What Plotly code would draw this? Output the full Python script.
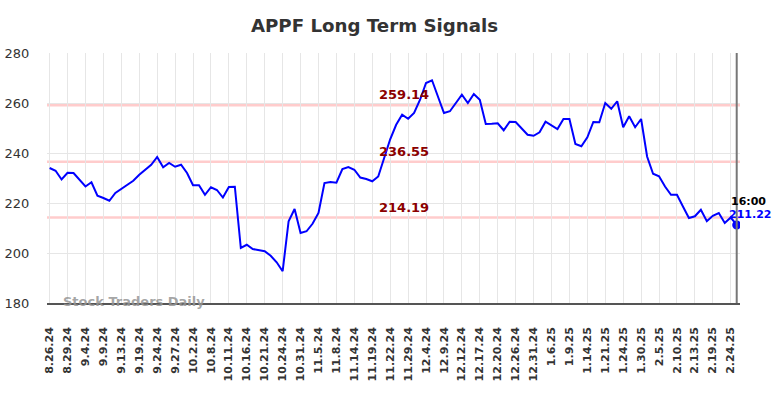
import plotly.graph_objects as go

title = "APPF Long Term Signals"

prices = [
    234.0, 232.9, 229.4, 232.1, 232.0, 229.3, 226.6, 228.3, 222.9, 222.0,
    220.9, 224.0, 225.7, 227.1, 228.9, 231.3, 233.2, 235.3, 238.4, 234.3,
    236.0, 234.5, 235.3, 232.0, 227.1, 227.1, 223.3, 226.3, 225.2, 222.2,
    226.4, 226.5, 202.0, 203.3, 201.6, 201.2, 200.7, 198.9, 196.3, 192.7,
    212.7, 217.6, 208.0, 208.7, 211.7, 216.0, 228.0, 228.4, 228.1, 233.6,
    234.4, 233.3, 230.2, 229.6, 228.7, 230.6, 238.0, 245.5, 251.3, 255.3,
    253.7, 256.0, 261.3, 268.0, 269.1, 262.7, 256.0, 256.7, 260.0, 263.3,
    260.0, 263.6, 261.3, 251.6, 251.7, 251.9, 249.1, 252.5, 252.4, 250.0,
    247.3, 246.9, 248.3, 252.5, 250.9, 249.6, 253.6, 253.6, 243.6, 242.7,
    246.3, 252.4, 252.3, 260.0, 257.7, 260.7, 250.3, 254.7, 250.3, 253.6,
    238.6, 231.7, 230.7, 226.6, 223.3, 223.3, 218.6, 214.0, 214.7, 217.3,
    212.7, 214.9, 216.0, 212.0, 214.2, 211.22,
]

tick_labels = [
    "8.26.24", "8.29.24", "9.4.24", "9.9.24", "9.13.24", "9.19.24", "9.24.24",
    "9.27.24", "10.2.24", "10.8.24", "10.11.24", "10.16.24", "10.21.24",
    "10.24.24", "10.31.24", "11.5.24", "11.8.24", "11.14.24", "11.19.24",
    "11.22.24", "11.29.24", "12.4.24", "12.9.24", "12.12.24", "12.17.24",
    "12.20.24", "12.26.24", "12.31.24", "1.6.25", "1.9.25", "1.14.25",
    "1.21.25", "1.24.25", "1.30.25", "2.5.25", "2.10.25", "2.13.25",
    "2.19.25", "2.24.25",
]
tick_step = 3

signal_levels = [259.14, 236.55, 214.19]
signal_label_pos = 59.3

last_time = "16:00"

x_idx = list(range(len(prices)))
tick_vals = [i * tick_step for i in range(len(tick_labels))]
last_x = x_idx[-1]
last_y = prices[-1]

FONT = "DejaVu Sans"

fig = go.Figure()

for lvl in signal_levels:
    fig.add_shape(type="line", xref="paper", x0=0, x1=1, yref="y", y0=lvl, y1=lvl,
                  line=dict(color="#ffcccc", width=2.5), layer="below")

fig.add_trace(go.Scatter(x=x_idx, y=prices, mode="lines",
                         line=dict(color="#0000ff", width=2), hoverinfo="skip",
                         showlegend=False))
fig.add_trace(go.Scatter(x=[last_x], y=[last_y], mode="markers",
                         marker=dict(color="#0000ff", size=9), showlegend=False))

# vertical marker at last point
fig.add_shape(type="line", xref="x", x0=last_x, x1=last_x, yref="paper", y0=0, y1=1,
              line=dict(color="#777777", width=2))

for lvl in signal_levels:
    fig.add_annotation(x=signal_label_pos, y=lvl, xref="x", yref="y",
                       text=f"<b>{lvl:.2f}</b>", showarrow=False,
                       font=dict(family=FONT, size=13, color="#8b0000"),
                       yanchor="bottom", yshift=1)

fig.add_annotation(x=last_x, y=last_y, xref="x", yref="y", text=f"<b>{last_time}</b>",
                   showarrow=False, xanchor="left", xshift=-8, yshift=23,
                   font=dict(family=FONT, size=11, color="#000000"))
fig.add_annotation(x=last_x, y=last_y, xref="x", yref="y", text=f"<b>{last_y:.2f}</b>",
                   showarrow=False, xanchor="left", xshift=-10, yshift=10,
                   font=dict(family=FONT, size=11, color="#0000ff"))

fig.add_annotation(x=0.02, y=0, xref="paper", yref="paper", text="<b>Stock Traders Daily</b>",
                   showarrow=False, xanchor="left", yanchor="middle", yshift=2,
                   font=dict(family=FONT, size=13, color="rgba(150,150,150,0.85)"))

fig.update_layout(
    width=784, height=398,
    margin=dict(l=47, r=44, t=53, b=95, pad=0, autoexpand=False),
    paper_bgcolor="white", plot_bgcolor="white",
    title=dict(text=f"<b>{title}</b>", x=0.4777, xanchor="center", y=0.935, yanchor="middle",
               font=dict(family=FONT, size=18.2, color="#333333")),
    font=dict(family=FONT),
    showlegend=False,
)

fig.update_xaxes(
    range=[-0.44, 115.55], tickmode="array", tickvals=tick_vals, ticktext=tick_labels,
    tickangle=-90, tickfont=dict(family=FONT, size=11, color="#333333", weight="bold"),
    showgrid=True, gridcolor="#e6e6e6", gridwidth=1, zeroline=False,
    showline=True, linecolor="#555555", linewidth=1.5,
    ticks="outside", ticklen=18, tickcolor="rgba(0,0,0,0)", automargin=False,
)
fig.update_yaxes(
    range=[180, 280], tickvals=[180, 200, 220, 240, 260, 280],
    tickfont=dict(family=FONT, size=13, color="#333333"),
    showgrid=True, gridcolor="#e6e6e6", gridwidth=1, zeroline=False,
    showline=False, ticks="outside", ticklen=14, tickcolor="rgba(0,0,0,0)", automargin=False,
)

fig.write_html("out.html", config={"displayModeBar": False},
               post_script="document.body.style.margin='0px';")
